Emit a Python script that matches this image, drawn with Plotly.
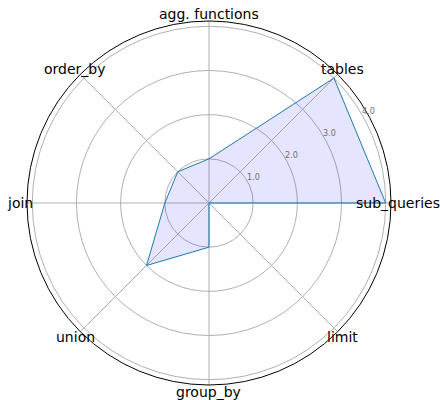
import math
import plotly.graph_objects as go

categories = ["sub_queries", "tables", "agg. functions", "order_by", "join", "union", "group_by", "limit"]
values = [4.0, 4.0, 1.0, 1.0, 1.0, 2.0, 1.0, 0.0]
radial_ticks = [1.0, 2.0, 3.0, 4.0]
radial_tick_labels = ["1.0", "2.0", "3.0", "4.0"]

W, H = 440, 400
CX, CY, R = 209, 203, 182   # pixel center / radius of polar area
RMAX = 4.12

fig = go.Figure()
fig.add_trace(go.Scatterpolar(
    r=values + [values[0]],
    theta=categories + [categories[0]],
    mode="lines",
    line=dict(color="#1f77b4", width=1),
    fill="toself",
    fillcolor="rgba(0,0,255,0.1)",
    showlegend=False,
    hoverinfo="skip",
))

annotations = []
n = len(categories)
for i, cat in enumerate(categories):
    a = math.radians(360 * i / n)
    px = CX + 189 * math.cos(a)
    py = CY - 189 * math.sin(a)
    annotations.append(dict(x=px / W, y=1 - py / H, xref="paper", yref="paper",
                            text=cat, showarrow=False, xanchor="center", yanchor="middle",
                            font=dict(size=14, color="black")))
ppu = R / RMAX
for v, lab in zip(radial_ticks, radial_tick_labels):
    a = math.radians(30)
    px = CX + v * ppu * math.cos(a) + 6
    py = CY - v * ppu * math.sin(a) - 3.5
    annotations.append(dict(x=px / W, y=1 - py / H, xref="paper", yref="paper",
                            text=lab, showarrow=False, xanchor="center", yanchor="middle",
                            font=dict(size=8, color="#707070")))

fig.update_layout(
    width=W, height=H,
    margin=dict(l=0, r=0, t=0, b=0),
    paper_bgcolor="white",
    font=dict(family="DejaVu Sans", color="black"),
    annotations=annotations,
    polar=dict(
        domain=dict(x=[(CX - R) / W, (CX + R) / W], y=[1 - (CY + R) / H, 1 - (CY - R) / H]),
        bgcolor="white",
        angularaxis=dict(
            rotation=0, direction="counterclockwise",
            showline=True, linecolor="black", linewidth=1,
            gridcolor="#b0b0b0", gridwidth=1,
            ticks="", showticklabels=False,
        ),
        radialaxis=dict(
            range=[0, RMAX], angle=22.5,
            showline=False, ticks="", showticklabels=False,
            tickvals=radial_ticks,
            gridcolor="#b0b0b0", gridwidth=1,
        ),
    ),
)

fig.write_html("out.html", config={"displayModeBar": False},
               post_script="document.body.style.margin='0';document.body.style.overflow='hidden';")
